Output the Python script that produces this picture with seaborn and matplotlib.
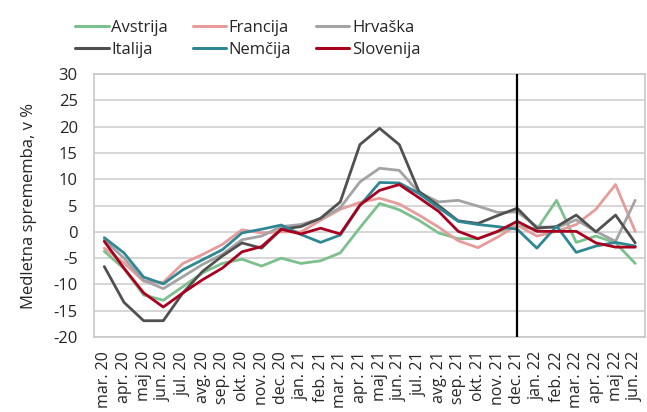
import pandas as pd
import matplotlib.pyplot as plt
import seaborn as sns

months = ['mar. 20', 'apr. 20', 'maj 20', 'jun. 20', 'jul. 20', 'avg. 20', 'sep. 20',
          'okt. 20', 'nov. 20', 'dec. 20', 'jan. 21', 'feb. 21', 'mar. 21', 'apr. 21',
          'maj 21', 'jun. 21', 'jul. 21', 'avg. 21', 'sep. 21', 'okt. 21', 'nov. 21',
          'dec. 21', 'jan. 22', 'feb. 22', 'mar. 22', 'apr. 22', 'maj 22', 'jun. 22']

avstrija = [-3.7, -7.0, -12.0, -13.0, -10.4, -7.8, -6.0, -5.2, -6.5, -5.0, -6.0, -5.5, -4.0, 0.8,
            5.4, 4.2, 2.2, -0.2, -1.3, -1.3, 0.0, 1.2, 0.5, 6.0, -2.0, -0.8, -2.1, -6.0]
francija = [-3.1, -5.9, -9.4, -9.6, -6.0, -4.3, -2.4, 0.4, -0.2, 0.0, 0.0, 2.2, 4.3, 5.6,
            6.4, 5.3, 3.2, 0.9, -1.7, -3.0, -1.0, 1.3, -0.8, 0.1, 1.4, 4.3, 9.0, 0.1]
hrvaska = [-1.5, -5.0, -9.2, -10.8, -8.5, -6.2, -4.3, -1.5, -0.8, 1.0, 1.4, 2.5, 4.6, 9.5,
           12.1, 11.7, 7.5, 5.7, 6.0, 4.9, 3.7, 3.8, 1.0, 0.8, 2.3, 0.1, -1.8, 6.0]
italija = [-6.6, -13.4, -16.9, -16.9, -11.6, -7.5, -4.6, -2.1, -3.1, 0.5, 1.0, 2.6, 5.7, 16.6,
           19.7, 16.6, 7.7, 5.0, 2.1, 1.6, 3.1, 4.5, 0.7, 1.0, 3.2, 0.0, 3.2, -2.1]
nemcija = [-1.1, -4.0, -8.6, -9.9, -7.2, -5.3, -3.4, -0.2, 0.5, 1.3, -0.5, -2.0, -0.6, 5.0,
           9.4, 9.3, 7.3, 4.6, 2.0, 1.4, 1.0, 0.5, -3.1, 1.1, -3.9, -2.7, -2.0, -2.7]
slovenija = [-1.8, -6.9, -11.6, -14.3, -11.6, -9.1, -6.9, -3.8, -2.8, 0.5, -0.4, 0.7, -0.4, 5.1,
             7.9, 9.0, 6.5, 3.9, 0.1, -1.3, 0.1, 2.0, 0.1, 0.1, 0.1, -2.1, -2.9, -2.9]

countries = ['Avstrija', 'Francija', 'Hrvaška', 'Italija', 'Nemčija', 'Slovenija']
series = [avstrija, francija, hrvaska, italija, nemcija, slovenija]
colors = ['#7cc08e', '#e59c9a', '#a3a3a3', '#505050', '#2f8794', '#a8001e']

df = pd.DataFrame({
    'idx': list(range(len(months))) * len(countries),
    'val': [v for s in series for v in s],
    'drzava': [c for c in countries for _ in months],
})

sns.set_theme(style="white")
plt.rcParams['font.family'] = ['Open Sans', 'DejaVu Sans']
plt.rcParams['axes.unicode_minus'] = False

fig = plt.figure(figsize=(6.47, 4.12), dpi=100)
ax = fig.add_axes([0.146, 0.182, 0.851, 0.638])
sns.lineplot(data=df, x='idx', y='val', hue='drzava', hue_order=countries,
             palette=colors, lw=2.0, sort=False, ax=ax, legend=False)

ax.axvline(21, color='black', lw=1.6, zorder=5)
ax.set_xlim(-0.5, len(months) - 0.5)
ax.set_ylim(-20, 30)
ax.set_yticks(range(-20, 31, 5))
ax.set_xticks(range(len(months)))
ax.set_xticklabels(months, rotation=90, fontsize=11.5)
ax.tick_params(axis='y', labelsize=12, pad=6)
ax.tick_params(axis='x', pad=4)
ax.grid(axis='y', color='#d0d0d0', lw=1.2)
for s in ax.spines.values():
    s.set_color('#c8c8c8')
    s.set_linewidth(1.2)
ax.set_xlabel('')
ax.set_ylabel('Medletna sprememba, v %', fontsize=12, labelpad=12)

# legend: column-major fill so rows read Avstrija/Francija/Hrvaška, Italija/Nemčija/Slovenija
order = [0, 3, 1, 4, 2, 5]
handles = [plt.Line2D([], [], color=colors[i], lw=2.2) for i in order]
labels = [countries[i] for i in order]
fig.legend(handles, labels, ncol=3, frameon=False, fontsize=12,
           loc='center', bbox_to_anchor=(0.383, 0.905), handlelength=2.0,
           handletextpad=0.15, columnspacing=1.5, labelspacing=0.35)

plt.savefig('out.png', dpi=100)
plt.close()
